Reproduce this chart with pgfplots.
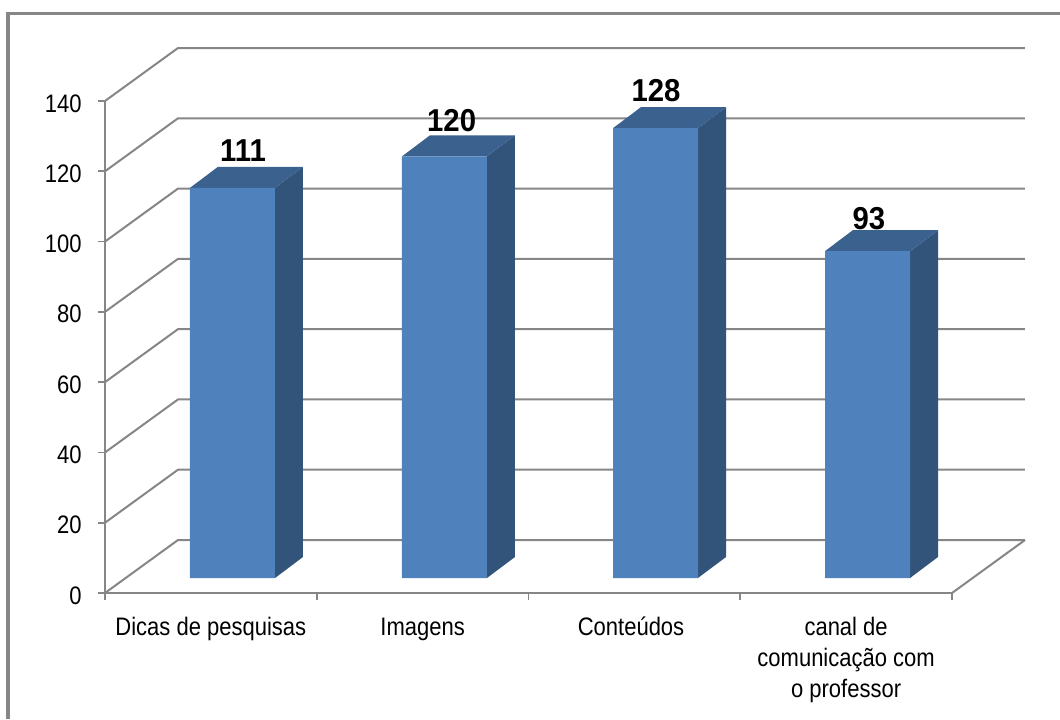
\documentclass[border=0pt]{standalone}
\usepackage{pgfplots}
\pgfplotsset{compat=1.18}
\usepackage{fontspec}
\setmainfont{Liberation Sans}

\definecolor{front}{HTML}{4F81BD}
\definecolor{topface}{HTML}{3B618F}
\definecolor{side}{HTML}{32537A}
\definecolor{linegray}{HTML}{868686}

\begin{document}
\begin{tikzpicture}
% 1 image pixel = 0.75pt, origin at the axis corner
\path[use as bounding box] (-78.75pt,-94.5pt) rectangle (716.25pt,444.75pt);
\draw[color=linegray, line width=2.6pt] (-72.75pt,-94.5pt) -- (-72.75pt,434.75pt) -- (716.25pt,434.75pt);

\begin{axis}[
    at={(0pt,0pt)}, anchor=south west,
    scale only axis,
    width=635.25pt, height=369pt,
    clip=false,
    xmin=0, xmax=4, ymin=0, ymax=140,
    axis lines=left,
    axis line style={-, color=linegray, line width=1.5pt},
    tick style={color=linegray, line width=1.2pt},
    major tick length=5.25pt,
    tick align=outside,
    xtick={0,1,2,3,4},
    xticklabels={\strut Dicas de pesquisas, \strut Imagens, \strut Conteúdos\hspace{5pt}, {\strut canal de\\comunicação com\\o professor},},
    ytick={0,20,...,140},
    /pgf/number format/assume math mode=true,
    tick label style={font=\fontsize{16.5}{20.2}\selectfont, yscale=1.15},
    x tick label style={align=center, anchor=north, xshift=79.4pt, yshift=-5.5pt},
    y tick label style={xshift=-8.8pt, yshift=-1.5pt},
]

% back wall and side wall grid
\pgfplotsinvokeforeach{0,20,...,140}{
    \draw[color=linegray, line width=1.5pt] (axis cs:0,#1) -- (axis cs:0.3447,#1+15.08) -- (axis cs:4.3447,#1+15.08);
}
\draw[color=linegray, line width=1.5pt] (axis cs:4,0) -- (axis cs:4.3447,15.08);

% right faces
\addplot[fill=side, draw=none, yshift=11.25pt] coordinates {(0.803,0)(0.935,5.98)(0.935,116.98)(0.803,111)} -- cycle;
\addplot[fill=side, draw=none, yshift=11.25pt] coordinates {(1.804,0)(1.936,5.98)(1.936,125.98)(1.804,120)} -- cycle;
\addplot[fill=side, draw=none, yshift=11.25pt] coordinates {(2.800,0)(2.933,5.98)(2.933,133.98)(2.800,128)} -- cycle;
\addplot[fill=side, draw=none, yshift=11.25pt] coordinates {(3.802,0)(3.934,5.98)(3.934,98.98)(3.802,93)} -- cycle;

% top faces
\addplot[fill=topface, draw=none, yshift=11.25pt] coordinates {(0.401,111)(0.533,116.98)(0.935,116.98)(0.803,111)} -- cycle;
\addplot[fill=topface, draw=none, yshift=11.25pt] coordinates {(1.403,120)(1.535,125.98)(1.936,125.98)(1.804,120)} -- cycle;
\addplot[fill=topface, draw=none, yshift=11.25pt] coordinates {(2.399,128)(2.531,133.98)(2.933,133.98)(2.800,128)} -- cycle;
\addplot[fill=topface, draw=none, yshift=11.25pt] coordinates {(3.400,93)(3.532,98.98)(3.934,98.98)(3.802,93)} -- cycle;

% front faces
\addplot[ybar, bar width=63.75pt, bar shift=0pt, fill=front, draw=none, yshift=11.25pt]
    coordinates {(0.602,111)(1.603,120)(2.600,128)(3.601,93)};

% value labels
\node[anchor=base, yscale=1.08, font=\fontsize{22}{22}\selectfont\bfseries] at (axis cs:0.652,122.9) {111};
\node[anchor=base, yscale=1.08, font=\fontsize{22}{22}\selectfont\bfseries] at (axis cs:1.637,131.2) {120};
\node[anchor=base, yscale=1.08, font=\fontsize{22}{22}\selectfont\bfseries] at (axis cs:2.602,140.0) {128};
\node[anchor=base, yscale=1.08, font=\fontsize{22}{22}\selectfont\bfseries] at (axis cs:3.608,103.4) {93};
\end{axis}
\end{tikzpicture}
\end{document}
